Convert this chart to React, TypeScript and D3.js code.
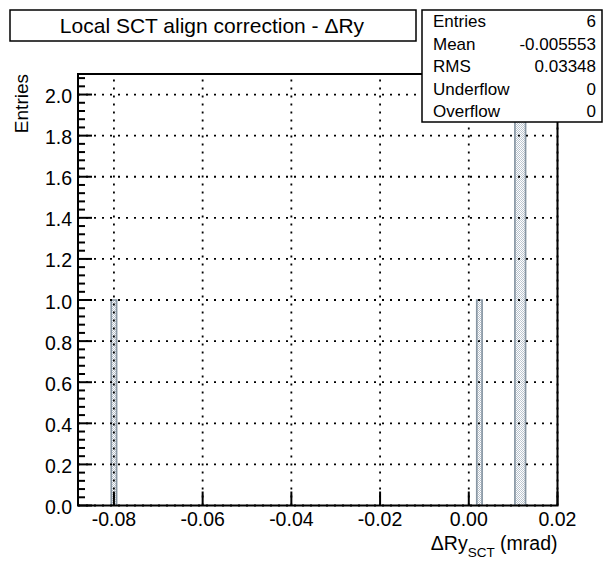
import React from "react";
import * as d3 from "d3";

const binLows = [-0.0806, 0.0018, 0.0104, 0.0116];
const binWidth = 0.0012;
const binCounts = [1, 1, 2, 2];
const xTicks = [-0.08, -0.06, -0.04, -0.02, 0.0, 0.02];
const xTickLabels = ["-0.08", "-0.06", "-0.04", "-0.02", "0.00", "0.02"];
const yTicks = [0, 0.2, 0.4, 0.6, 0.8, 1.0, 1.2, 1.4, 1.6, 1.8, 2.0];
const statLabels = ["Entries", "Mean", "RMS", "Underflow", "Overflow"];
const statValues = ["6", "-0.005553", "0.03348", "0", "0"];
const titleText = "Local SCT align correction - \u0394Ry";

const W = 604;
const H = 561;
const FONT = "'Liberation Sans', Arial, Helvetica, sans-serif";

export default function App() {
  const left = 78, right = 557.5, top = 74, bottom = 505.5;
  const x = d3.scaleLinear().domain([-0.0881, 0.02]).range([left, right]);
  const y = d3.scaleLinear().domain([0, 2.1]).range([bottom, top]);
  const minorY = d3.range(0, 2.1001, 0.04).map((v) => +v.toFixed(3));

  const statsL = 422, statsR = 602, statsT = 10, statsB = 122;
  const rowH = (statsB - statsT) / statLabels.length;

  // histogram contour: group adjacent bins
  const contour = d3.path();
  let i = 0;
  while (i < binLows.length) {
    let j = i;
    while (j + 1 < binLows.length && Math.abs(binLows[j + 1] - (binLows[j] + binWidth)) < 1e-9) j++;
    contour.moveTo(x(binLows[i]), y(0));
    for (let k = i; k <= j; k++) {
      contour.lineTo(x(binLows[k]), y(binCounts[k]));
      contour.lineTo(x(binLows[k] + binWidth), y(binCounts[k]));
    }
    contour.lineTo(x(binLows[j] + binWidth), y(0));
    i = j + 1;
  }

  return (
    <svg width={W} height={H} style={{ position: "absolute", left: 0, top: 0, background: "#fff" }} fontFamily={FONT}>
      <defs>
        <pattern id="chk" width="2" height="2" patternUnits="userSpaceOnUse">
          <rect width="2" height="2" fill="#ffffff" />
          <rect width="1" height="1" fill="#b9c3cd" />
          <rect x="1" y="1" width="1" height="1" fill="#b9c3cd" />
        </pattern>
        <clipPath id="frameClip">
          <rect x={left} y={top} width={right - left} height={bottom - top} />
        </clipPath>
      </defs>
      <rect x={0} y={0} width={W} height={H} fill="#fff" />

      {/* bars */}
      <g clipPath="url(#frameClip)">
        {binLows.map((lo, k) => (
          <rect
            key={k}
            x={x(lo)}
            y={y(binCounts[k])}
            width={x(lo + binWidth) - x(lo)}
            height={y(0) - y(binCounts[k])}
            fill="url(#chk)"
          />
        ))}
        <path d={contour.toString()} fill="none" stroke="#8796a3" strokeWidth={1.7} />
      </g>

      {/* grid */}
      <g stroke="#000" strokeWidth={1.8} strokeDasharray="2 6">
        {xTicks.map((t, k) => (
          <line key={"gx" + k} x1={x(t)} x2={x(t)} y1={bottom} y2={top} />
        ))}
        {yTicks.map((t, k) => (
          <line key={"gy" + k} x1={left} x2={right} y1={y(t)} y2={y(t)} />
        ))}
      </g>

      {/* ticks */}
      <g stroke="#000" strokeWidth={2}>
        {xTicks.map((t, k) => (
          <line key={"tx" + k} x1={x(t)} x2={x(t)} y1={bottom} y2={bottom - 14} />
        ))}
        {minorY.map((t, k) => {
          const major = Math.abs(Math.round(t * 5) - t * 5) < 1e-6;
          return <line key={"ty" + k} x1={left} x2={left + (major ? 14 : 7)} y1={y(t)} y2={y(t)} />;
        })}
      </g>

      {/* frame */}
      <rect x={left} y={top} width={right - left} height={bottom - top} fill="none" stroke="#000" strokeWidth={2} />

      {/* tick labels */}
      <g fontSize={19.5} fill="#000">
        {xTicks.map((t, k) => (
          <text key={"lx" + k} x={x(t)} y={526} textAnchor="middle">{xTickLabels[k]}</text>
        ))}
        {yTicks.map((t, k) => (
          <text key={"ly" + k} x={72} y={y(t) + 1.5} dy="0.36em" textAnchor="end">{t.toFixed(1)}</text>
        ))}
      </g>

      {/* axis titles */}
      <text x={28} y={top} fontSize={19} textAnchor="end" transform={`rotate(-90 28 ${top})`}>Entries</text>
      <text x={right} y={550} fontSize={19.5} textAnchor="end">
        <tspan>{"\u0394Ry"}</tspan>
        <tspan fontSize={13.5} dy={7}>SCT</tspan>
        <tspan dy={-7}>{" (mrad)"}</tspan>
      </text>

      {/* title box */}
      <rect x={10} y={10} width={406} height={31} fill="#fff" stroke="#000" strokeWidth={1.5} />
      <text x={212} y={25.5} dy="0.36em" fontSize={21} textAnchor="middle">{titleText}</text>

      {/* stats box */}
      <rect x={statsL} y={statsT} width={statsR - statsL} height={statsB - statsT} fill="#fff" stroke="#000" strokeWidth={1.5} />
      <g fontSize={17}>
        {statLabels.map((l, k) => (
          <g key={"s" + k}>
            <text x={433} y={statsT + rowH * (k + 0.5)} dy="0.36em">{l}</text>
            <text x={596} y={statsT + rowH * (k + 0.5)} dy="0.36em" textAnchor="end">{statValues[k]}</text>
          </g>
        ))}
      </g>
    </svg>
  );
}
